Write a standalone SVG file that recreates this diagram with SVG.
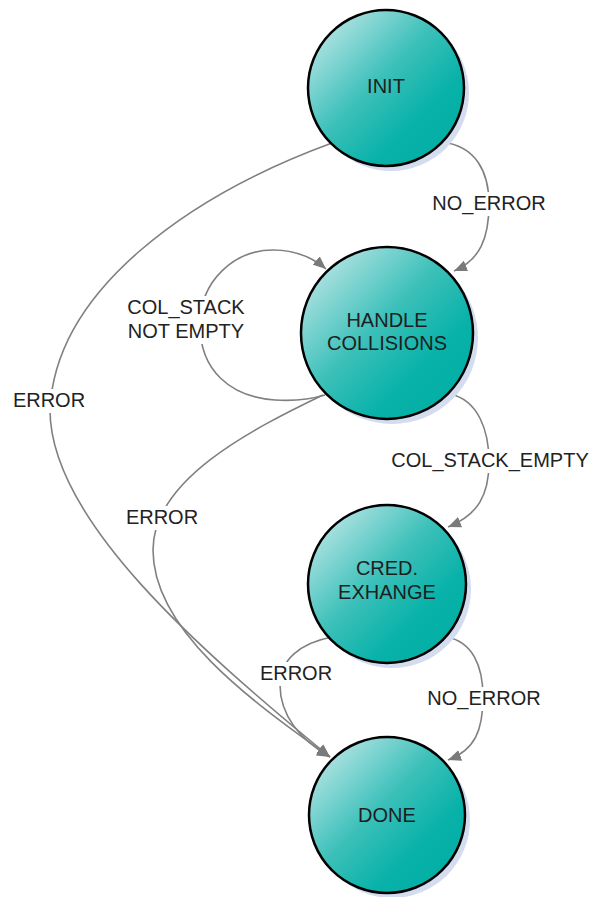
<svg xmlns="http://www.w3.org/2000/svg" width="592" height="897" viewBox="0 0 592 897">
  <defs>
    <linearGradient id="stateFill" x1="0" y1="0" x2="1" y2="1">
      <stop offset="0" stop-color="#d6eef0"/>
      <stop offset="0.45" stop-color="#3cc0b9"/>
      <stop offset="0.7" stop-color="#08b2a9"/>
      <stop offset="1" stop-color="#00aca2"/>
    </linearGradient>
    <marker id="arrow" markerUnits="userSpaceOnUse" markerWidth="14" markerHeight="12" refX="13" refY="6" orient="auto">
      <path d="M0,0.5 L13,6 L0,11.5 Z" fill="#7a7a7a"/>
    </marker>
    <style>
      .shadow { fill: #d3ddef; }
      .state { fill: url(#stateFill); stroke: #000; stroke-width: 2.5; }
      .name { font-family: "Liberation Sans", Arial, sans-serif; font-size: 20px; fill: #1e1e1e; text-anchor: middle; }
      .edge { fill: none; stroke: #808080; stroke-width: 1.6; }
      .lbl { font-family: "Liberation Sans", Arial, sans-serif; font-size: 20px; fill: #222; text-anchor: middle; }
      .lblbg { fill: #fff; }
    </style>
  </defs>
  <rect width="592" height="897" fill="#fff"/>

  <g id="connectors">
    <!-- INIT -> HANDLE COLLISIONS -->
    <path class="edge" d="M442,142 C476,146 489,172 489,204 C489,238 480,260 454,271" marker-end="url(#arrow)"/>
    <!-- HANDLE COLLISIONS self loop -->
    <path class="edge" d="M325,395 C305,401 290,401 275,400 C230,397 200,370 200,325 C200,280 235,250 273,250 C295,250 312,257 326,269" marker-end="url(#arrow)"/>
    <!-- INIT -> DONE -->
    <path class="edge" d="M332,143 C190,195 55,290 50,410 C50,520 200,650 330,757" marker-end="url(#arrow)"/>
    <!-- HANDLE COLLISIONS -> DONE -->
    <path class="edge" d="M323,395 C250,430 153,480 153,550 C153,630 250,700 330,757" marker-end="url(#arrow)"/>
    <!-- HANDLE COLLISIONS -> CRED. EXHANGE -->
    <path class="edge" d="M450,394 C478,400 489,430 489,462 C489,495 478,515 448,527" marker-end="url(#arrow)"/>
    <!-- CRED. EXHANGE -> DONE (error) -->
    <path class="edge" d="M332,637 C300,643 280,660 280,685 C280,715 300,740 330,757" marker-end="url(#arrow)"/>
    <!-- CRED. EXHANGE -> DONE (no error) -->
    <path class="edge" d="M447,637 C472,642 483,665 483,697 C483,730 475,750 448,760" marker-end="url(#arrow)"/>

    <!-- transition labels -->
    <g id="labels">
      <rect class="lblbg" x="430" y="192" width="118" height="24"/>
      <text class="lbl" x="489" y="210">NO_ERROR</text>
      <rect class="lblbg" x="124" y="296" width="126" height="48"/>
      <text class="lbl" x="186" y="314">COL_STACK</text>
      <text class="lbl" x="186" y="338">NOT EMPTY</text>
      <rect class="lblbg" x="11" y="389" width="76" height="24"/>
      <text class="lbl" x="49" y="407">ERROR</text>
      <rect class="lblbg" x="386" y="449" width="206" height="24"/>
      <text class="lbl" x="490" y="467">COL_STACK_EMPTY</text>
      <rect class="lblbg" x="124" y="506" width="76" height="24"/>
      <text class="lbl" x="162" y="524">ERROR</text>
      <rect class="lblbg" x="258" y="662" width="76" height="24"/>
      <text class="lbl" x="296" y="680">ERROR</text>
      <rect class="lblbg" x="425" y="687" width="118" height="24"/>
      <text class="lbl" x="484" y="705">NO_ERROR</text>
    </g>
  </g>

  <g id="init">
    <circle class="shadow" cx="391" cy="93" r="78"/>
    <circle class="state" cx="386" cy="88" r="78"/>
    <text class="name" x="386" y="93">INIT</text>
  </g>
  <g id="handle-collisions">
    <circle class="shadow" cx="392" cy="338" r="86"/>
    <circle class="state" cx="387" cy="333" r="86"/>
    <text class="name" x="387" y="327">HANDLE</text>
    <text class="name" x="387" y="350">COLLISIONS</text>
  </g>
  <g id="cred-exhange">
    <circle class="shadow" cx="392" cy="589" r="79"/>
    <circle class="state" cx="387" cy="584" r="79"/>
    <text class="name" x="387" y="575">CRED.</text>
    <text class="name" x="387" y="599">EXHANGE</text>
  </g>
  <g id="done">
    <circle class="shadow" cx="392" cy="820" r="78"/>
    <circle class="state" cx="387" cy="815" r="78"/>
    <text class="name" x="387" y="822">DONE</text>
  </g>
</svg>
